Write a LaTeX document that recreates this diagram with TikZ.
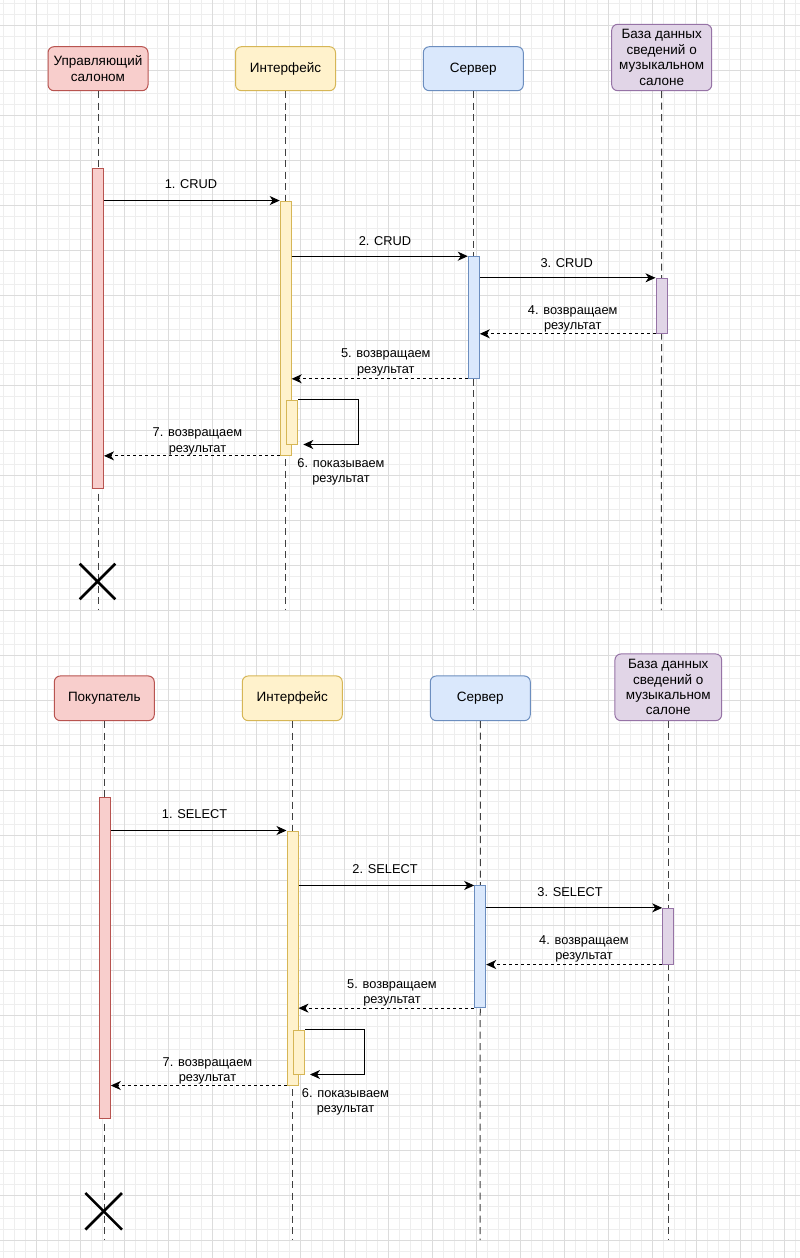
\documentclass[tikz,border=0pt]{standalone}
\usepackage{fontspec}
\setmainfont{Liberation Sans}
\usetikzlibrary{arrows.meta,shapes.misc,calc}
\definecolor{redF}{HTML}{F8CECC}\definecolor{redS}{HTML}{B85450}
\definecolor{yelF}{HTML}{FFF2CC}\definecolor{yelS}{HTML}{D6B656}
\definecolor{bluF}{HTML}{DAE8FC}\definecolor{bluS}{HTML}{6C8EBF}
\definecolor{purF}{HTML}{E1D5E7}\definecolor{purS}{HTML}{9673A6}
\definecolor{gridminor}{RGB}{238,238,238}
\definecolor{gridmajor}{RGB}{220,220,220}
\begin{document}
\begin{tikzpicture}[x=1pt,y=-1pt,
  actor/.style={draw, rounded corners=6pt, line width=1pt, minimum width=100pt, minimum height=44pt, align=center, inner sep=1pt, font=\fontsize{13.5}{15.4}\selectfont},
  red/.style={fill=redF, draw=redS}, yel/.style={fill=yelF, draw=yelS},
  blu/.style={fill=bluF, draw=bluS}, pur/.style={fill=purF, draw=purS},
  bar/.style={line width=1pt, minimum width=11pt, inner sep=0pt},
  life/.style={draw=black!75, line width=1pt, dash pattern=on 7pt off 4.5pt},
  msg/.style={draw=black, line width=1pt, -{Stealth[length=10pt,width=9pt,inset=3pt]}},
  ret/.style={msg, dash pattern=on 3pt off 3pt},
  lbl/.style={font=\fontsize{12.8}{15.2}\selectfont, align=center, inner sep=0pt, anchor=base},
  lbltwo/.style={lbl, yshift=-15.2pt},
  xmark/.style={draw, cross out, minimum size=33pt, line width=2.6pt, inner sep=0pt}
]
\fill[white] (0,0) rectangle (800,1258);
\useasboundingbox (0,0) rectangle (800,1258);
% grid
\foreach \i in {0,...,72} \draw[gridminor, line width=1pt] ({3.7+11*\i},0) -- ++(0,1258);
\foreach \i in {0,...,111} \draw[gridminor, line width=1pt] (0,{3.2+11.25*\i}) -- ++(800,0);
\foreach \i in {0,...,17} \draw[gridmajor, line width=1pt] ({36.7+44*\i},0) -- ++(0,1258);
\foreach \i in {0,...,27} \draw[gridmajor, line width=1pt] (0,{25.7+45*\i}) -- ++(800,0);

% ================= top diagram =================
\node[actor, red] (tA) at (98,68.7) {Управляющий\\салоном};
\node[actor, yel] (tI) at (285.5,68.7) {Интерфейс};
\node[actor, blu] (tS) at (473.3,68.7) {Сервер};
\node[actor, pur, minimum height=66.4pt] (tD) at (661.7,57.5) {База данных\\сведений о\\музыкальном\\салоне};
\coordinate (tAe) at (98,610);
\coordinate (tIe) at (285.5,610);
\coordinate (tSe) at (473.3,610);
\coordinate (tDe) at (661.3,610);
\draw[life] (tA.south) -- (tAe);
\draw[life] (tI.south) -- (tIe);
\draw[life] (tS.south) -- (tSe);
\draw[life] (tD.south) -- (tDe);
\node[bar, red, minimum height=320.3pt] (tAb) at (98,328.2) {};
\node[bar, yel, minimum height=254.3pt] (tIb) at (285.7,328.2) {};
\node[bar, blu, minimum height=121.6pt] (tSb) at (473.8,317.5) {};
\node[bar, pur, minimum height=55pt] (tDb) at (661.5,305.8) {};
\node[bar, yel, minimum height=44pt] (tNb) at (292.3,422) {};
\node[xmark] (tX) at (97.5,581.5) {};
\draw[msg] (tIb.north west -| tAb.east) -- (tIb.north west);
\draw[msg] (tSb.north west -| tIb.east) -- (tSb.north west);
\draw[msg] (tDb.north west -| tSb.east) -- (tDb.north west);
\draw[ret] (tDb.south west) -- (tDb.south west -| tSb.east);
\draw[ret] (tSb.south west) -- (tSb.south west -| tIb.east);
\draw[msg] (tNb.north east) -- ++(60,0) |- ($(tNb.south east)+(5,0)$);
\draw[ret] (tIb.south west) -- (tIb.south west -| tAb.east);
\node[lbl] (tL1) at (191,188.8) {1. CRUD};
\node[lbl] (tL2) at (385,245.2) {2. CRUD};
\node[lbl] (tL3) at (566.7,267.2) {3. CRUD};
\node[lbltwo] (tL4) at (572.7,314.5) {4. возвращаем\\результат};
\node[lbltwo] (tL5) at (385.8,357.8) {5. возвращаем\\результат};
\node[lbltwo] (tL6) at (341,467.2) {6. показываем\\результат};
\node[lbltwo] (tL7) at (197.5,436.8) {7. возвращаем\\результат};

% ================= bottom diagram =================
\node[actor, red, minimum height=44.7pt] (bA) at (104.3,698.3) {Покупатель};
\node[actor, yel, minimum height=44.7pt] (bI) at (292.3,698.3) {Интерфейс};
\node[actor, blu, minimum height=44.7pt] (bS) at (480.3,698.3) {Сервер};
\node[actor, pur, minimum width=106.7pt, minimum height=66.7pt] (bD) at (668.3,687.3) {База данных\\сведений о\\музыкальном\\салоне};
\coordinate (bAe) at (104.3,1240);
\coordinate (bIe) at (292.3,1240);
\coordinate (bSe) at (480.2,1240);
\coordinate (bDe) at (668,1240);
\draw[life] (bA.south) -- (bAe);
\draw[life] (bI.south) -- (bIe);
\draw[life] (bS.south) -- (bSe);
\draw[life] (bD.south -| bDe) -- (bDe);
\node[bar, red, minimum height=320.6pt] (bAb) at (104.8,958) {};
\node[bar, yel, minimum height=254pt] (bIb) at (292.5,958) {};
\node[bar, blu, minimum height=121.7pt] (bSb) at (480.2,946.8) {};
\node[bar, pur, minimum height=55.7pt] (bDb) at (668.2,936.2) {};
\node[bar, yel, minimum height=44pt] (bNb) at (299,1052) {};
\node[xmark, minimum size=34pt] (bX) at (103.7,1211.3) {};
\draw[msg] (bIb.north west -| bAb.east) -- (bIb.north west);
\draw[msg] (bSb.north west -| bIb.east) -- (bSb.north west);
\draw[msg] (bDb.north west -| bSb.east) -- (bDb.north west);
\draw[ret] (bDb.south west) -- (bDb.south west -| bSb.east);
\draw[ret] (bSb.south west) -- (bSb.south west -| bIb.east);
\draw[msg] (bNb.north east) -- ++(59.6,0) |- ($(bNb.south east)+(5,0)$);
\draw[ret] (bIb.south west) -- (bIb.south west -| bAb.east);
\node[lbl] (bL1) at (194.5,818.5) {1. SELECT};
\node[lbl] (bL2) at (385,873.8) {2. SELECT};
\node[lbl] (bL3) at (570,896.8) {3. SELECT};
\node[lbltwo] (bL4) at (584,944.5) {4. возвращаем\\результат};
\node[lbltwo] (bL5) at (392,988.5) {5. возвращаем\\результат};
\node[lbltwo] (bL6) at (345.5,1097.2) {6. показываем\\результат};
\node[lbltwo] (bL7) at (207.5,1066.2) {7. возвращаем\\результат};
\end{tikzpicture}
\end{document}
